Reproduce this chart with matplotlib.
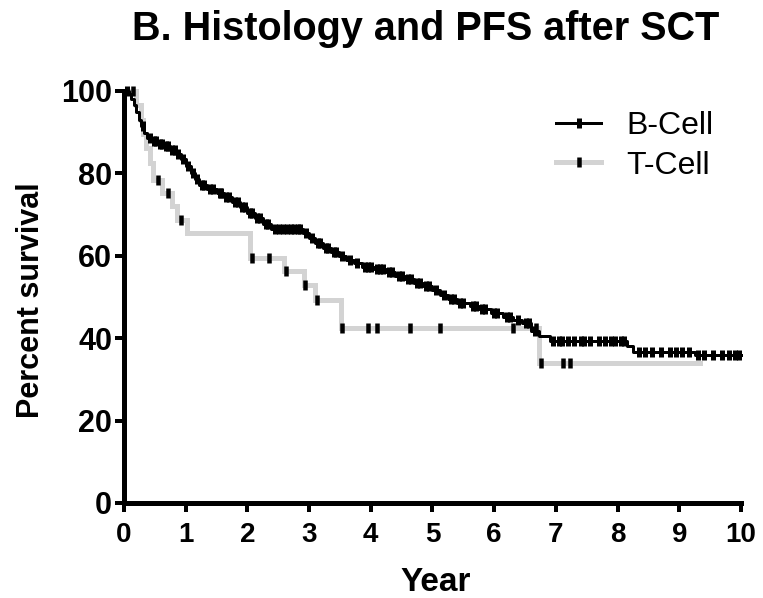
import numpy as np
import matplotlib
matplotlib.use("Agg")
import matplotlib.pyplot as plt
from matplotlib.lines import Line2D

plt.rcParams['font.family'] = ['Liberation Sans', 'DejaVu Sans']

# Kaplan-Meier step data: time (years) of each drop and survival (%) after it
b_times = [0.0, 0.08, 0.12, 0.16, 0.20, 0.24, 0.28, 0.33, 0.38, 0.45, 0.55, 0.65,
           0.75, 0.85, 0.92, 1.00, 1.08, 1.15, 1.22, 1.35, 1.50, 1.62, 1.75,
           1.88, 2.00, 2.12, 2.25, 2.38, 2.90, 3.00, 3.10, 3.22, 3.35, 3.48,
           3.60, 3.72, 3.85, 4.05, 4.25, 4.40, 4.55, 4.70, 4.85, 5.00, 5.12,
           5.25, 5.40, 5.60, 5.75, 5.95, 6.15, 6.30, 6.45, 6.60, 6.72, 6.90,
           8.15, 8.25, 9.25]
b_surv = [100.0, 99.2, 98.0, 96.5, 94.8, 93.0, 91.5, 89.8, 88.6, 87.8, 87.2, 86.6,
          85.8, 84.8, 83.4, 81.8, 80.2, 78.6, 77.2, 76.2, 75.3, 74.2, 73.0,
          71.8, 70.5, 69.2, 67.8, 66.4, 65.6, 64.4, 63.2, 62.0, 61.0, 60.0,
          59.0, 58.2, 57.4, 56.8, 56.0, 55.0, 54.3, 53.5, 52.6, 51.6, 50.6,
          49.4, 48.6, 47.8, 47.0, 46.0, 45.2, 44.5, 43.6, 41.8, 40.6, 39.4,
          38.0, 36.6, 35.9]
b_end = 10.0

b_censor = [0.05, 0.30, 0.42, 0.48, 0.52, 0.58, 0.62, 0.68, 0.72, 0.78, 0.82,
            0.88, 0.95, 1.03, 1.12, 1.18, 1.26, 1.30, 1.40, 1.45, 1.55, 1.58,
            1.66, 1.70, 1.80, 1.84, 1.92, 1.96, 2.04, 2.08, 2.16, 2.20, 2.30,
            2.34, 2.45, 2.52, 2.58, 2.64, 2.70, 2.76, 2.82, 2.86, 2.95, 3.05,
            3.14, 3.18, 3.28, 3.30, 3.40, 3.44, 3.54, 3.66, 3.78, 3.90, 3.95,
            4.00, 4.10, 4.15, 4.20, 4.30, 4.35, 4.45, 4.50, 4.60, 4.65, 4.75,
            4.80, 4.90, 4.95, 5.05, 5.18, 5.30, 5.35, 5.45, 5.50, 5.65, 5.70,
            5.80, 5.85, 6.00, 6.05, 6.20, 6.25, 6.38, 6.52, 6.56, 6.66, 6.95,
            7.05, 7.10, 7.20, 7.30, 7.40, 7.45, 7.55, 7.70, 7.80, 7.90, 7.95,
            8.05, 8.10, 8.35, 8.45, 8.55, 8.70, 8.85, 8.95, 9.05, 9.15, 9.30,
            9.40, 9.55, 9.70, 9.80, 9.90, 9.97]

t_times = [0.0, 0.20, 0.27, 0.31, 0.36, 0.42, 0.47, 0.62, 0.78, 0.86, 1.02,
           2.05, 2.60, 2.92, 3.10, 3.52, 6.73]
t_surv = [100.0, 96.5, 93.0, 89.6, 86.1, 82.6, 78.3, 75.2, 72.0, 68.8, 65.6,
          59.5, 56.2, 52.8, 49.2, 42.5, 34.0]
t_end = 9.33

t_censor = [0.15, 0.55, 0.72, 0.92, 2.08, 2.35, 2.62, 2.94, 3.12, 3.53, 3.95,
            4.10, 4.64, 5.12, 6.30, 6.68, 6.76, 7.12, 7.23]

series_labels = ["B-Cell", "T-Cell"]
x_ticks = [0, 1, 2, 3, 4, 5, 6, 7, 8, 9, 10]
y_ticks = [0, 20, 40, 60, 80, 100]

B_COLOR = "black"
T_COLOR = "#d3d3d3"
PX = 72.0 / 100.0  # points per pixel at dpi 100


def step_value(times, surv, t):
    idx = np.searchsorted(np.asarray(times), t, side="right") - 1
    return np.asarray(surv)[idx]


fig = plt.figure(figsize=(7.63, 5.98), dpi=100)
ax = fig.add_axes([124 / 763, 1 - 503 / 598, 617 / 763, 412 / 598])

# T-cell curve (thick light gray)
tx = list(t_times) + [t_end]
ty = list(t_surv) + [t_surv[-1]]
ax.step(tx, ty, where="post", color=T_COLOR, lw=5 * PX, zorder=2,
        solid_joinstyle="miter", clip_on=False)

# B-cell curve (black)
bx = list(b_times) + [b_end]
by = list(b_surv) + [b_surv[-1]]
ax.step(bx, by, where="post", color=B_COLOR, lw=3 * PX, zorder=3, clip_on=False)

# censor ticks
bc = np.asarray(b_censor)
ax.plot(bc, step_value(b_times, b_surv, bc), ls="none", marker="|",
        ms=10 * PX, mew=5 * PX, color="black", zorder=4, clip_on=False)
tc = np.asarray(t_censor)
ax.plot(tc, step_value(t_times, t_surv, tc), ls="none", marker="|",
        ms=10 * PX, mew=4.5 * PX, color="black", zorder=4, clip_on=False)

ax.set_xlim(0, 10)
ax.set_ylim(0, 100)
ax.set_xticks(x_ticks)
ax.set_yticks(y_ticks)
ax.set_xticklabels([str(v) for v in x_ticks])
ax.set_yticklabels([str(v) for v in y_ticks])

for side in ("top", "right"):
    ax.spines[side].set_visible(False)
for side in ("left", "bottom"):
    ax.spines[side].set_linewidth(5 * PX)
    ax.spines[side].set_capstyle("projecting")

ax.tick_params(axis="both", direction="out", length=9 * PX, width=4 * PX,
               color="black")
ax.tick_params(axis="x", pad=7, labelsize=20)
ax.tick_params(axis="y", pad=2, labelsize=22)
for lab in ax.get_xticklabels() + ax.get_yticklabels():
    lab.set_fontweight("bold")

# legend
handles = [
    Line2D([], [], color=B_COLOR, lw=3 * PX, marker="|", ms=10 * PX, mew=5 * PX,
           markeredgecolor="black"),
    Line2D([], [], color=T_COLOR, lw=5 * PX, marker="|", ms=10 * PX,
           mew=4.5 * PX, markeredgecolor="black"),
]
ax.legend(handles, series_labels, loc="upper left",
          bbox_to_anchor=(0.675, 0.99), frameon=False, fontsize=23,
          handlelength=1.4, handletextpad=0.78, labelspacing=0.3,
          borderpad=0, numpoints=1)

fig.text(0.558, 1 - 40 / 598, "B. Histology and PFS after SCT", ha="center",
         va="baseline", fontsize=28.5, fontweight="bold")
fig.text(31 / 763, 1 - 300 / 598, "Percent survival", ha="center", va="center",
         rotation=90, fontsize=22, fontweight="bold")
fig.text(436 / 763, 1 - 591 / 598, "Year", ha="center", va="baseline",
         fontsize=24, fontweight="bold")

fig.savefig("out.png", dpi=100)
